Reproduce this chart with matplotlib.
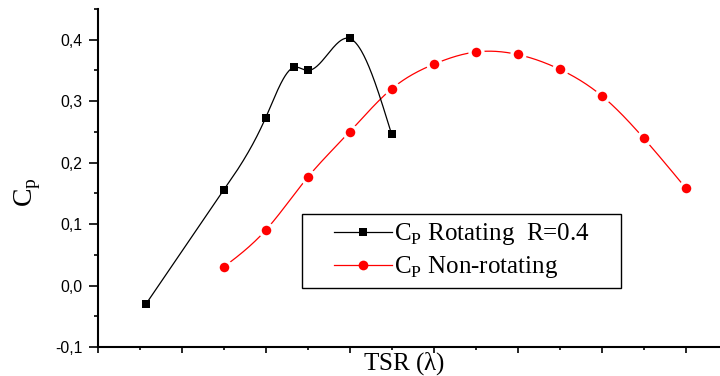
import numpy as np
import matplotlib
matplotlib.use("Agg")
import matplotlib.pyplot as plt
from matplotlib.patches import Rectangle
from matplotlib.ticker import MultipleLocator, FixedLocator, NullFormatter

# Power coefficient versus tip speed ratio
tsr_rot = [0.575, 1.5, 2.0, 2.335, 2.5, 3.0, 3.5]
cp_rot = [-0.030, 0.155, 0.273, 0.355, 0.350, 0.402, 0.246]

tsr_non = [1.5, 2.0, 2.5, 3.0, 3.5, 4.0, 4.5, 5.0, 5.5, 6.0, 6.5, 7.0]
cp_non = [0.030, 0.090, 0.176, 0.250, 0.320, 0.360, 0.380, 0.376, 0.352, 0.309, 0.240, 0.159]

ytick_values = [-0.1, 0.0, 0.1, 0.2, 0.3, 0.4]
ytick_labels = ["-0,1", "0,0", "0,1", "0,2", "0,3", "0,4"]

label_rot = r"C$_\mathregular{P}$ Rotating  R=0.4"
label_non = r"C$_\mathregular{P}$ Non-rotating"


def natural_spline(x, y, n=400):
    """Natural cubic spline through (x, y), sampled at n points."""
    x = np.asarray(x, float)
    y = np.asarray(y, float)
    k = len(x)
    h = np.diff(x)
    A = np.zeros((k, k))
    r = np.zeros(k)
    A[0, 0] = A[-1, -1] = 1.0
    for i in range(1, k - 1):
        A[i, i - 1] = h[i - 1]
        A[i, i] = 2 * (h[i - 1] + h[i])
        A[i, i + 1] = h[i]
        r[i] = 6 * ((y[i + 1] - y[i]) / h[i] - (y[i] - y[i - 1]) / h[i - 1])
    M = np.linalg.solve(A, r)
    xs = np.linspace(x[0], x[-1], n)
    idx = np.clip(np.searchsorted(x, xs) - 1, 0, k - 2)
    x0, x1 = x[idx], x[idx + 1]
    hh = x1 - x0
    a = (x1 - xs) / hh
    b = (xs - x0) / hh
    ys = (a * y[idx] + b * y[idx + 1]
          + ((a ** 3 - a) * M[idx] + (b ** 3 - b) * M[idx + 1]) * hh ** 2 / 6)
    return xs, ys


plt.rcParams["font.family"] = ["Liberation Sans", "DejaVu Sans"]
W, H = 720, 376

fig = plt.figure(figsize=(7.2, 3.76), dpi=100)
ax = fig.add_axes([97.7 / W, 29 / H, 1 - 97.7 / W, 338 / H])

# red series: spline with short gaps around each marker
xs, ys = natural_spline(tsr_non, cp_non)
ax.plot(xs, ys, color="red", lw=0.9, zorder=2)
ax.plot(tsr_non, cp_non, ls="none", marker="o", ms=9.3, mfc="red",
        mec="white", mew=2.4, zorder=3)

# black series
xs, ys = natural_spline(tsr_rot, cp_rot)
ax.plot(xs, ys, color="black", lw=0.9, zorder=4)
ax.plot(tsr_rot, cp_rot, ls="none", marker="s", ms=6.3, mfc="black",
        mec="black", mew=0, zorder=5)

ax.set_xlim(0, 7.41)
ax.set_ylim(-0.1, 0.45)

for side in ("top", "right"):
    ax.spines[side].set_visible(False)
for side in ("left", "bottom"):
    ax.spines[side].set_linewidth(1.5)

ax.xaxis.set_major_locator(MultipleLocator(1.0))
ax.xaxis.set_minor_locator(MultipleLocator(0.5))
ax.xaxis.set_major_formatter(NullFormatter())
ax.yaxis.set_major_locator(FixedLocator(ytick_values))
ax.set_yticklabels(ytick_labels)
ax.yaxis.set_minor_locator(MultipleLocator(0.05))
ax.tick_params(axis="y", which="major", direction="out", length=6.5, width=1.2,
               labelsize=11.3, pad=4.3)
ax.tick_params(axis="y", which="minor", direction="out", length=3.2, width=1.2)
ax.tick_params(axis="x", which="major", direction="out", length=4.5, width=1.2)
ax.tick_params(axis="x", which="minor", direction="out", length=2.5, width=1.2)

serif = ["Liberation Serif", "DejaVu Serif"]
fig.text(28 / W, 1 - 192 / H, r"C$_\mathregular{p}$", rotation=90,
         ha="center", va="center", fontsize=20, family=serif)
fig.text(404 / W, 1 - 370 / H, r"TSR ($\mathregular{\lambda}$)",
         ha="center", va="baseline", fontsize=18, family=serif)

# legend entries without their own frame; the box is drawn separately
h_rot, = ax.plot([], [], color="black", lw=0.9, marker="s", ms=6.0, mew=0)
h_non, = ax.plot([], [], color="red", lw=0.9, marker="o", ms=7.0, mew=0)
leg = ax.legend([h_rot, h_non], [label_rot, label_non],
                loc="upper left", bbox_to_anchor=(334 / W, 1 - 221.5 / H),
                bbox_transform=fig.transFigure, borderaxespad=0,
                prop={"family": serif, "size": 18}, frameon=False,
                handlelength=2.3, handletextpad=0.1,
                borderpad=0, labelspacing=0.28, numpoints=1)
fig.patches.append(Rectangle((301.7 / W, 1 - 288.3 / H), (621 - 301.7) / W,
                             (288.3 - 214) / H, transform=fig.transFigure,
                             fill=False, edgecolor="black", lw=1.0, zorder=6))

fig.savefig("out.png", dpi=100)
